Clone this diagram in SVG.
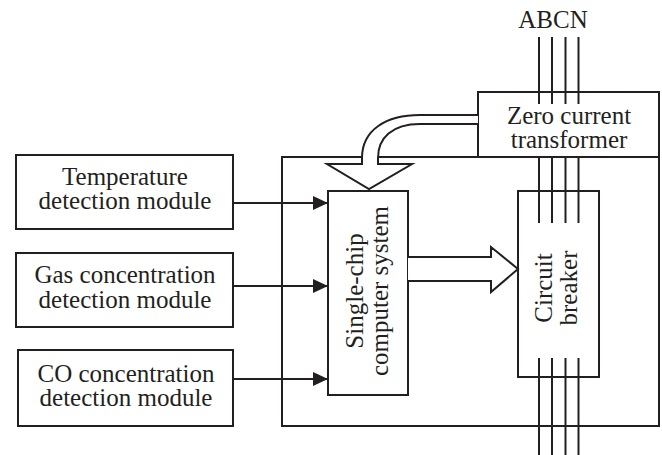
<svg xmlns="http://www.w3.org/2000/svg" width="662" height="455" viewBox="0 0 662 455">
  <defs>
    <style>
      .box { fill: none; stroke: #231f20; stroke-width: 2; }
      .wire { fill: none; stroke: #231f20; stroke-width: 2; }
      .hollow { fill: #fff; stroke: #231f20; stroke-width: 2; stroke-linejoin: miter; }
      .lbl { font-family: "Liberation Serif", "Times New Roman", serif; font-size: 25px; fill: #231f20; text-anchor: middle; }
    </style>
    <marker id="arrow" viewBox="0 0 15 14" refX="15" refY="7" markerWidth="15" markerHeight="14" markerUnits="userSpaceOnUse" orient="auto">
      <path d="M0,0 L15,7 L0,14 Z" fill="#231f20"/>
    </marker>
  </defs>

  <!-- enclosure -->
  <g id="enclosure">
    <rect class="box" x="282" y="157" width="377" height="269"/>
  </g>

  <g id="temperature">
    <rect class="box" x="16" y="155" width="217" height="74"/>
    <text class="lbl" x="125" y="185">Temperature</text>
    <text class="lbl" x="125" y="209">detection module</text>
  </g>

  <g id="gas">
    <rect class="box" x="16" y="253" width="217" height="74"/>
    <text class="lbl" x="125" y="283">Gas concentration</text>
    <text class="lbl" x="125" y="308">detection module</text>
  </g>

  <g id="co">
    <rect class="box" x="18" y="350" width="215" height="76"/>
    <text class="lbl" x="126" y="382">CO concentration</text>
    <text class="lbl" x="126" y="406">detection module</text>
  </g>

  <g id="mcu">
    <rect class="box" x="328" y="191" width="80" height="204"/>
    <text class="lbl" transform="translate(363,291) rotate(-90)">Single-chip</text>
    <text class="lbl" transform="translate(388,291) rotate(-90)">computer system</text>
  </g>

  <g id="transformer">
    <rect class="box" x="478" y="92" width="181" height="65"/>
    <text class="lbl" x="569" y="124">Zero current</text>
    <text class="lbl" x="569" y="148">transformer</text>
  </g>

  <g id="breaker">
    <rect class="box" x="518" y="191" width="81" height="186"/>
    <text class="lbl" transform="translate(552,288) rotate(-90)">Circuit</text>
    <text class="lbl" transform="translate(577,288) rotate(-90)">breaker</text>
  </g>

  <g id="phases">
    <text class="lbl" x="553" y="28">ABCN</text>
    <path class="wire" d="M539,37 V104 M552,37 V104 M565.5,37 V104 M578.5,37 V104"/>
    <path class="wire" d="M539,157 V223 M552,157 V223 M565.5,157 V223 M578.5,157 V223"/>
    <path class="wire" d="M539,358 V455 M552,358 V455 M565.5,358 V455 M578.5,358 V455"/>
  </g>

  <g id="connectors">
    <path class="wire" d="M233,203 H328" marker-end="url(#arrow)"/>
    <path class="wire" d="M233,286 H328" marker-end="url(#arrow)"/>
    <path class="wire" d="M233,379 H328" marker-end="url(#arrow)"/>
    <!-- curved hollow arrow: transformer signal into the MCU -->
    <path class="hollow" d="M478,115 L420,115 C386,115 362,130 362,158 L362,164 L327,164 L369,189 L412,164 L378,164 L378,158 C378,138 392,124 420,124 L478,124"/>
    <!-- hollow arrow: MCU trip command to the breaker -->
    <path class="hollow" d="M408,257 L491,257 L491,247 L518,269 L491,292 L491,281 L408,281"/>
  </g>
</svg>
